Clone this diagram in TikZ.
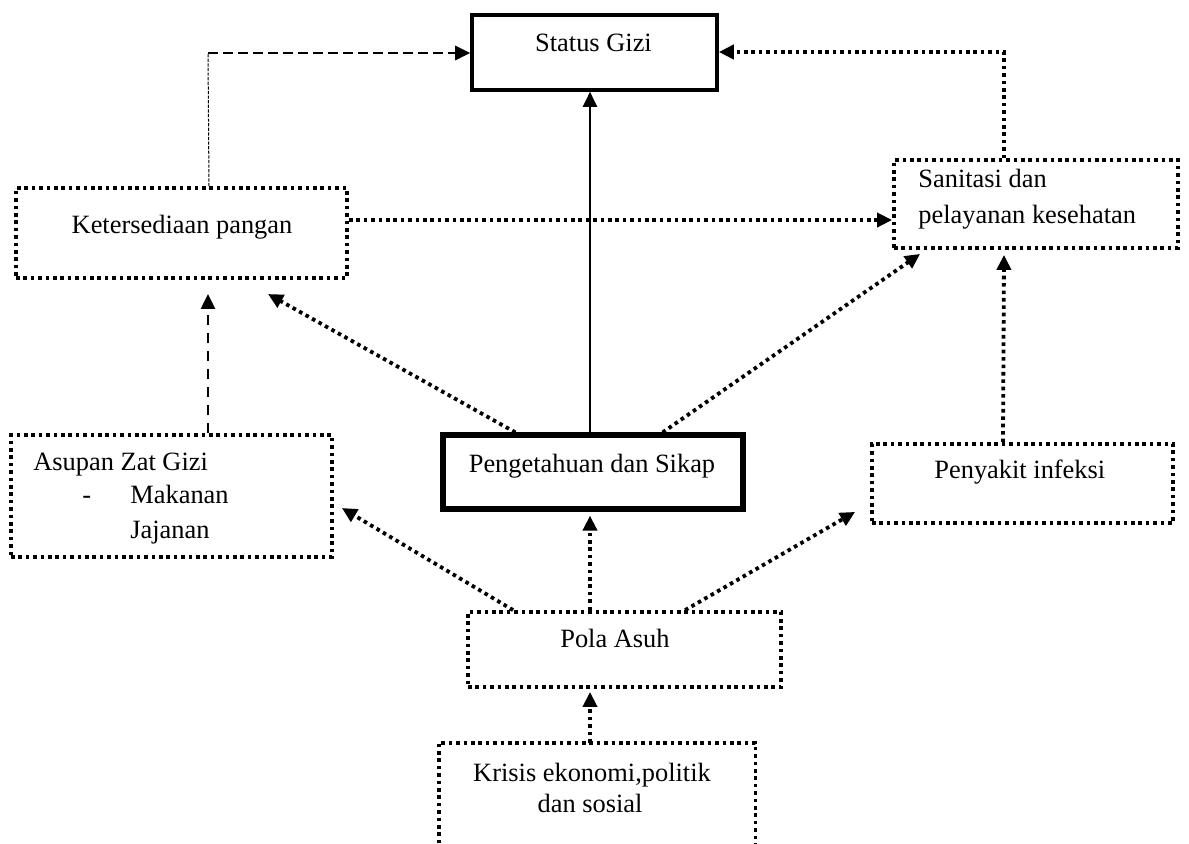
\documentclass[tikz,border=0pt]{standalone}
\usepackage{fontspec}
\setmainfont{Liberation Serif}
\usetikzlibrary{arrows.meta,calc}
\begin{document}
\begin{tikzpicture}[x=0.5pt,y=-0.5pt,
  txt/.style={inner sep=0pt,font=\fontsize{13.2}{16}\selectfont},
  dotbox/.style={draw,line width=1.9pt,dash pattern=on 1.8pt off 1.9pt,inner sep=0pt},
  solidbox/.style={draw,inner sep=0pt},
  tip/.style={-{Triangle[length=7.5pt,width=7pt]}},
  dotline/.style={line width=1.9pt,dash pattern=on 1.8pt off 1.9pt},
  dashline/.style={line width=1.1pt,dash pattern=on 5pt off 4pt},
  topdash/.style={line width=1.4pt,dash pattern=on 5pt off 2.5pt},
  thindash/.style={line width=0.5pt,dash pattern=on 1.6pt off 0.7pt}]
\useasboundingbox (0,0) rectangle (1189,843);

% boxes
\node[solidbox,line width=1.8pt,minimum width=122.5pt,minimum height=37.5pt] (sg) at (594.5,52.5) {};
\node[dotbox,minimum width=165.5pt,minimum height=45pt] (kp) at (181.5,233) {};
\node[dotbox,minimum width=142pt,minimum height=44pt] (san) at (1036,204) {};
\node[dotbox,minimum width=160.5pt,minimum height=61pt] (as) at (171.5,496) {};
\node[solidbox,line width=2.6pt,minimum width=150pt,minimum height=37pt] (pen) at (593,472) {};
\node[dotbox,minimum width=150.5pt,minimum height=39.5pt] (inf) at (1022.5,483.5) {};
\node[dotbox,minimum width=156.5pt,minimum height=37.5pt] (pa) at (624.5,649.5) {};
\node[inner sep=0pt,minimum width=158pt,minimum height=50pt] (kr) at (597,793) {};
\draw[dotline] (kr.south west) -- (kr.north west) -- (kr.north east) -- (kr.south east);

% texts
\node[txt,anchor=base] (tsg) at (593.5,51) {Status Gizi};
\node[txt,anchor=base] (tkp) at (182,233) {Ketersediaan pangan};
\node[txt,anchor=base west] (tsan1) at (918,187) {Sanitasi dan};
\node[txt,anchor=base west] (tsan2) at (918,223) {pelayanan kesehatan};
\node[txt,anchor=base west] (tas1) at (33,470) {Asupan Zat Gizi};
\node[txt,anchor=base west] (tas2) at (82,503) {-};
\node[txt,anchor=base west] (tas3) at (130,503) {Makanan};
\node[txt,anchor=base west] (tas4) at (130,538) {Jajanan};
\node[txt,anchor=base] (tpen) at (592,472) {Pengetahuan dan Sikap};
\node[txt,anchor=base west] (tinf) at (934,478) {Penyakit infeksi};
\node[txt,anchor=base] (tpa) at (615,647) {Pola Asuh};
\node[txt,anchor=base] (tkr1) at (592,781) {Krisis ekonomi,politik};
\node[txt,anchor=base] (tkr2) at (590,812) {dan sosial};

% connectors
\coordinate (c1) at (208,53);
\draw[thindash] ([xshift=13.75pt]kp.north) -- (c1);
\draw[topdash,tip] (c1) -- (sg.west |- c1);

\coordinate (c2) at (1004,52);
\draw[dotline,tip] ([xshift=-16pt]san.north) -- (c2) -- (sg.east |- c2);

\coordinate (p1) at ([xshift=-1.5pt]pen.north);
\draw[line width=1.1pt,tip] (p1) -- (p1 |- sg.south);

\coordinate (k1) at ([yshift=6.5pt]kp.east);
\draw[dotline,tip] (k1) -- (san.west |- k1);

\coordinate (t1) at (268,294);
\draw[dotline,tip] ([xshift=37.5pt]pen.north west) -- (t1);
\draw[dotline,tip] ([xshift=-41.5pt]pen.north east) -- ([xshift=14pt,yshift=-2pt]san.south west);

\draw[dashline,tip] ([xshift=18.25pt]as.north) -- ([xshift=13.25pt,yshift=-7pt]kp.south);
\draw[dotline,tip] ([xshift=-9.75pt]inf.north) -- ([xshift=-16pt,yshift=-2.5pt]san.south);

\draw[dotline,tip] ([xshift=-17.25pt]pa.north) -- ([xshift=-1.5pt,yshift=-2pt]pen.south);
\draw[dotline,tip] ([xshift=23.5pt]pa.north west) -- ([xshift=4pt,yshift=-6pt]as.east);
\draw[dotline,tip] ([xshift=109.5pt]pa.north west) -- ([xshift=-7.5pt,yshift=6.5pt]inf.south west);

\draw[dotline,tip] ([xshift=-3.5pt]kr.north) -- ([xshift=-17.25pt,yshift=-1.5pt]pa.south);
\end{tikzpicture}
\end{document}
